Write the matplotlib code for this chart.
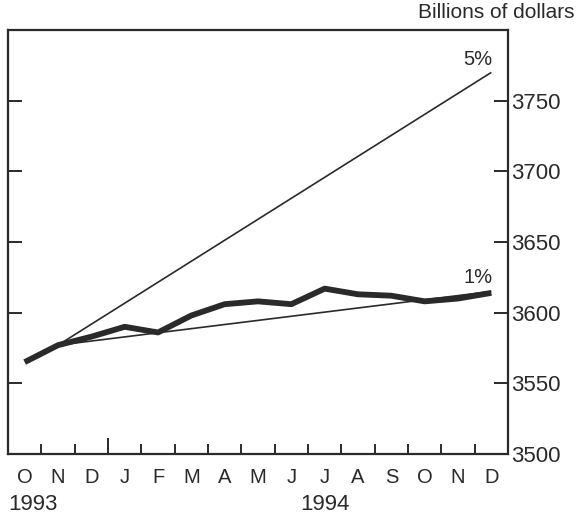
import matplotlib.pyplot as plt

plt.rcParams['font.family'] = ['Liberation Sans', 'DejaVu Sans']

months = ['O', 'N', 'D', 'J', 'F', 'M', 'A', 'M', 'J', 'J', 'A', 'S', 'O', 'N', 'D']
level = [3565, 3577, 3583, 3590, 3586, 3598, 3606, 3608, 3606, 3617, 3613, 3612, 3608, 3610, 3614]

# growth cone: base in Nov 1993, ends in Dec 1994
cone_base = 3577
cone_ends = {'5%': 3770, '1%': 3615}
cone_labels_y = {'5%': 3779, '1%': 3625}

yticks = [3500, 3550, 3600, 3650, 3700, 3750]

ink = '#2a2a2a'

fig = plt.figure(figsize=(5.79, 5.17), dpi=100)
ax = fig.add_axes([8 / 579, 1 - 454 / 517, 500 / 579, 424 / 517])

x = [i + 0.5 for i in range(len(months))]

for name, end in cone_ends.items():
    ax.plot([x[1], x[-1]], [cone_base, end], color=ink, lw=1.2, solid_capstyle='butt')
    ax.text(x[-1] - 0.4, cone_labels_y[name], name, ha='center', va='center', fontsize=14.5, color=ink)

ax.plot(x, level, color=ink, lw=4.2, solid_joinstyle='round', solid_capstyle='butt')

ax.set_xlim(0, 15)
ax.set_ylim(3500, 3800)

for s in ax.spines.values():
    s.set_linewidth(1.6)
    s.set_color(ink)

# y axis: ticks inside on both sides, labels on the right
ax.set_yticks(yticks)
ax.yaxis.tick_right()
ax.tick_params(axis='y', which='major', direction='in', length=10, width=1.4, color=ink,
               left=True, right=True, labelleft=False, labelright=True,
               labelsize=16, labelcolor=ink, pad=2)

# x axis: month boundaries as ticks, month letters centered
bounds = list(range(1, 15))
ax.set_xticks(bounds)
ax.set_xticklabels([])
ax.tick_params(axis='x', which='major', direction='in', length=7, width=1.4, color=ink)
ax.set_xticks(x, minor=True)
ax.set_xticklabels(months, minor=True)
ax.tick_params(axis='x', which='minor', length=0, labelsize=14.5, labelcolor=ink, pad=10)
ax.xaxis.get_major_ticks()[2].tick1line.set_markersize(11.5)

ax.text(0, -0.12, '1993', transform=ax.transAxes, fontsize=16, color=ink, ha='left', va='center')
ax.text(x[9], -0.12, '1994', transform=ax.get_xaxis_transform(), fontsize=16, color=ink,
        ha='center', va='center')

fig.text(574 / 579, 1 - 13 / 517, 'Billions of dollars', ha='right', va='center', fontsize=15, color=ink)

fig.savefig('out.png', dpi=100)
